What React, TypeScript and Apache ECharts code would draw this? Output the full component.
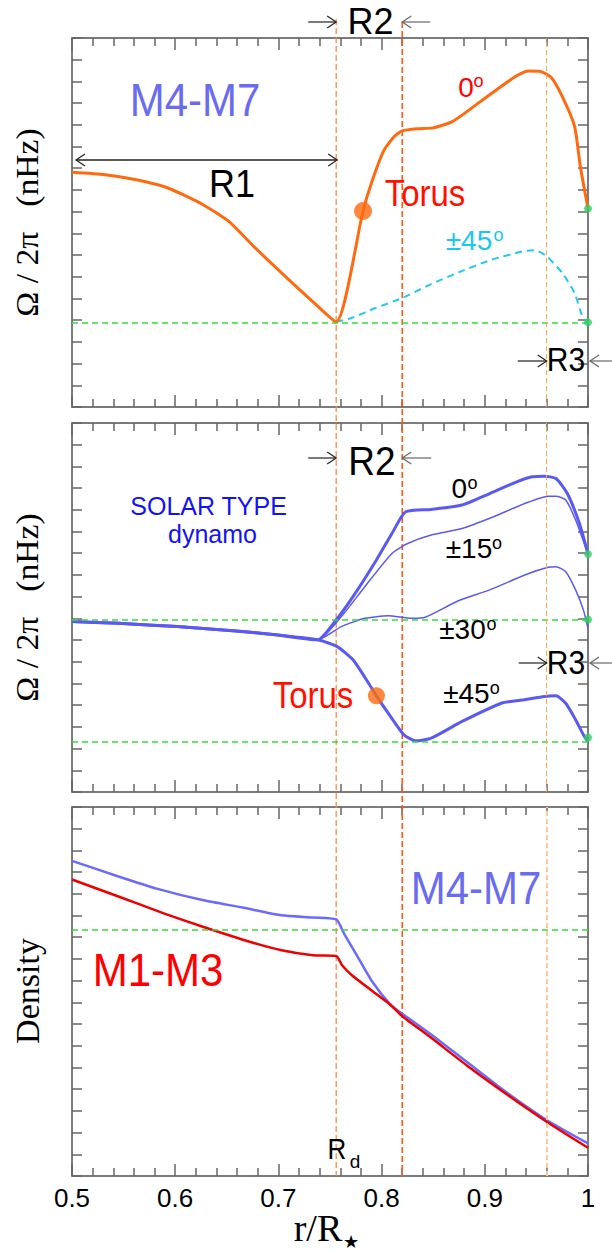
import React, { useEffect, useRef } from 'react';
import * as echarts from 'echarts';

// ---------- data (Ω/2π and density in tick units, r in r/R*) ----------
const xTickLabels = ['0.5', '0.6', '0.7', '0.8', '0.9', '1'];
const boundaryRd = 0.756;
const boundaryR2 = 0.82;
const boundaryR3 = 0.96;

// top panel (M4-M7)
const topLat0: [number, number][] = [
  [0.5, 10.81], [0.532, 10.7], [0.5625, 10.47], [0.593, 10.09], [0.627, 9.32], [0.652, 8.55],
  [0.676, 7.4], [0.71, 5.87], [0.733, 4.87], [0.756, 3.92], [0.782, 9.03], [0.79, 10.3],
  [0.802, 11.8], [0.812, 12.45], [0.82, 12.72], [0.835, 12.82], [0.85, 12.86], [0.869, 13.16],
  [0.896, 14.08], [0.93, 15.24], [0.942, 15.48], [0.953, 15.47], [0.964, 15.2], [0.975, 14.31],
  [0.987, 12.93], [0.9925, 11.1], [1.0, 9.14],
];
const topLat45: [number, number][] = [
  [0.756, 3.92], [0.771, 4.1], [0.794, 4.56], [0.82, 5.02], [0.847, 5.64], [0.877, 6.25],
  [0.907, 6.79], [0.937, 7.17], [0.949, 7.22], [0.96, 6.94], [0.975, 6.18], [0.987, 5.25],
  [0.994, 4.25], [1.0, 3.87],
];
const topTorus: [number, number][] = [[0.782, 9.03]];
const topSurface: [number, number][] = [[1.0, 9.14], [1.0, 3.9]];
const topRefs = [3.9];

// middle panel (solar type dynamo)
const midCommon: [number, number][] = [
  [0.5, 7.85], [0.545, 7.77], [0.602, 7.62], [0.659, 7.42], [0.697, 7.24], [0.738, 7.01],
];
const midLat0: [number, number][] = [
  [0.7534, 7.77], [0.7723, 9.0], [0.795, 10.69], [0.81, 11.91], [0.8234, 12.91], [0.848, 13.02],
  [0.878, 13.22], [0.9047, 13.75], [0.931, 14.29], [0.946, 14.52], [0.9577, 14.55], [0.969, 14.44],
  [0.98, 13.75], [0.9917, 12.37], [1.0, 10.96],
];
const midLat15: [number, number][] = [
  [0.761, 8.08], [0.7837, 9.46], [0.81, 10.99], [0.8253, 11.45], [0.848, 11.84], [0.878, 12.14],
  [0.9085, 12.68], [0.9387, 13.29], [0.9614, 13.63], [0.969, 13.63], [0.9784, 13.45], [0.988, 12.53],
  [1.0, 10.96],
];
const midLat30: [number, number][] = [
  [0.761, 7.62], [0.7837, 8.0], [0.8064, 8.12], [0.829, 8.0], [0.8423, 8.05], [0.8744, 8.81],
  [0.9047, 9.31], [0.9387, 10.0], [0.9614, 10.35], [0.969, 10.38], [0.9784, 10.15], [0.988, 9.31],
  [0.9955, 8.39], [1.0, 7.54],
];
const midLat45: [number, number][] = [
  [0.757, 6.7], [0.7723, 6.09], [0.7874, 5.01], [0.795, 4.43], [0.8064, 3.63], [0.8215, 2.64],
  [0.8328, 2.36], [0.848, 2.48], [0.878, 3.25], [0.916, 4.09], [0.9387, 4.25], [0.9577, 4.4],
  [0.969, 4.43], [0.9784, 4.09], [0.988, 3.33], [0.9955, 2.64], [1.0, 2.33],
];
const midTorus: [number, number][] = [[0.795, 4.43]];
const midSurface: [number, number][] = [[1.0, 10.96], [1.0, 7.95], [1.0, 2.51]];
const midRefs = [7.92, 2.3];

// bottom panel (density)
const densM4M7: [number, number][] = [
  [0.5, 14.52], [0.5443, 13.81], [0.582, 13.24], [0.6275, 12.7], [0.665, 12.37], [0.703, 12.01],
  [0.7334, 11.91], [0.756, 11.82], [0.7636, 11.17], [0.775, 10.25], [0.79, 9.02], [0.809, 7.87],
  [0.82, 7.48], [0.8468, 6.56], [0.8846, 5.18], [0.9225, 3.8], [0.9603, 2.57], [1.0, 1.5],
];
const densM1M3: [number, number][] = [
  [0.5, 13.66], [0.5443, 12.89], [0.5896, 12.09], [0.6275, 11.47], [0.673, 10.78], [0.703, 10.4],
  [0.7334, 10.17], [0.756, 10.14], [0.7617, 9.71], [0.7712, 9.25], [0.79, 8.56], [0.809, 7.87],
  [0.82, 7.36], [0.8468, 6.41], [0.8846, 5.02], [0.9225, 3.72], [0.9603, 2.49], [1.0, 1.3],
];
const densRefs = [11.35];

// ---------- styling ----------
const SANS = '"Liberation Sans", Arial, Helvetica, sans-serif';
const SERIF = '"Liberation Serif", "Times New Roman", serif';
const AXIS_COLOR = '#505050';
const TICK_COLOR = '#666';
const GREEN = '#3ada3a';
const DOT_GREEN = '#33cc66';
const ORANGE = '#ff6a10';
const BLUE = '#5a5af0';
const gridTops = [38, 423, 807];

function xAxisFor(g: number, pos: 'top' | 'bottom', showLabel: boolean) {
  return {
    type: 'value', gridIndex: g, position: pos, min: 0.5, max: 1, interval: 0.1,
    axisLine: { show: true, onZero: false, lineStyle: { color: AXIS_COLOR, width: 1.5 } },
    axisTick: { show: true, inside: true, length: 12, lineStyle: { color: TICK_COLOR, width: 1.5 } },
    minorTick: { show: true, splitNumber: 5, length: 8, lineStyle: { color: TICK_COLOR, width: 1.5 } },
    splitLine: { show: false }, minorSplitLine: { show: false },
    axisLabel: {
      show: showLabel, margin: 9, color: '#000', fontFamily: SANS, fontSize: 26,
      formatter: (v: number) => xTickLabels[Math.round((v - 0.5) / 0.1)] ?? '',
    },
  };
}
function yAxisFor(g: number, pos: 'left' | 'right') {
  return {
    type: 'value', gridIndex: g, position: pos, min: 0, max: 17, interval: 1,
    axisLine: { show: true, onZero: false, lineStyle: { color: AXIS_COLOR, width: 1.5 } },
    axisTick: { show: true, inside: true, length: 10, lineStyle: { color: TICK_COLOR, width: 1.5 } },
    splitLine: { show: false },
    axisLabel: { show: false },
  };
}
function line(g: number, data: [number, number][], color: string, width: number, type: any = 'solid') {
  return {
    type: 'line', xAxisIndex: 2 * g, yAxisIndex: 2 * g, data, symbol: 'none', smooth: 0.2,
    lineStyle: { color, width, type }, silent: true, z: 3, animation: false,
  };
}
function dots(g: number, data: [number, number][], color: string, size: number) {
  return {
    type: 'scatter', xAxisIndex: 2 * g, yAxisIndex: 2 * g, data, symbol: 'circle', symbolSize: size,
    itemStyle: { color }, silent: true, z: 5,
  };
}
function refs(g: number, ys: number[], r3Color: string, r3Width: number) {
  return {
    type: 'line', xAxisIndex: 2 * g, yAxisIndex: 2 * g, data: [], silent: true,
    markLine: {
      silent: true, symbol: ['none', 'none'], label: { show: false }, animation: false,
      data: [
        ...ys.map((v) => ({ yAxis: v, lineStyle: { color: GREEN, width: 1.5, type: [6, 4] } })),
        { xAxis: boundaryR3, lineStyle: { color: r3Color, width: r3Width, type: [5, 3] } },
      ],
    },
  };
}

function buildOption() {
  const grid = gridTops.map((top) => ({ left: 72, top, width: 516, height: 369 }));
  const xAxis: any[] = [];
  const yAxis: any[] = [];
  for (let g = 0; g < 3; g++) {
    xAxis.push(xAxisFor(g, 'bottom', g === 2));
    xAxis.push(xAxisFor(g, 'top', false));
    yAxis.push(yAxisFor(g, 'left'));
    yAxis.push(yAxisFor(g, 'right'));
  }
  const series = [
    refs(0, topRefs, '#ffa64d', 1),
    line(0, topLat45, '#22c8ee', 2, [7, 5]),
    line(0, topLat0, ORANGE, 3),
    dots(0, topTorus, ORANGE, 18),
    dots(0, topSurface, DOT_GREEN, 8),

    refs(1, midRefs, '#ffa64d', 1),
    line(1, [...midCommon, ...midLat15], BLUE, 1.5),
    line(1, [...midCommon, ...midLat30], BLUE, 1.5),
    line(1, [...midCommon, ...midLat0], BLUE, 3),
    line(1, [...midCommon, ...midLat45], BLUE, 3),
    dots(1, midTorus, ORANGE, 17),
    dots(1, midSurface, DOT_GREEN, 8),

    refs(2, densRefs, '#ffc999', 2),
    line(2, densM4M7, '#6a6aff', 2.5),
    line(2, densM1M3, '#ee0000', 2.5),
  ];
  return { animation: false, backgroundColor: '#fff', grid, xAxis, yAxis, series };
}

function text(t: string, x: number, y: number, size: number, color: string, extra: any = {}) {
  const { family, ...rest } = extra;
  return {
    type: 'text', x, y, z: 100, silent: true, ...rest,
    style: {
      text: t, fill: color, font: `${size}px ${family || SANS}`, align: 'center', verticalAlign: 'middle',
    },
  };
}
function arrow(from: number, tip: number, y: number, color: string) {
  const d = tip > from ? 1 : -1;
  return [
    { type: 'line', z: 50, silent: true, shape: { x1: from, y1: y, x2: tip, y2: y }, style: { stroke: color, lineWidth: 1.2 } },
    {
      type: 'polyline', z: 50, silent: true,
      shape: { points: [[tip - d * 9, y - 6], [tip, y], [tip - d * 9, y + 6]] },
      style: { stroke: color, lineWidth: 1.2, fill: 'none' },
    },
  ];
}

export default function App() {
  const ref = useRef<HTMLDivElement>(null);
  useEffect(() => {
    const chart = echarts.init(ref.current!, null, { renderer: 'svg' });
    chart.setOption(buildOption());

    const px = (v: number) => chart.convertToPixel({ xAxisIndex: 0 }, v) as unknown as number;
    const xL = px(0.5);
    const xR = px(1.0);
    const xRd = px(boundaryRd);
    const xR2 = px(boundaryR2);
    const xR3 = px(boundaryR3);
    const yBottom = chart.convertToPixel({ yAxisIndex: 4 }, 0) as unknown as number;

    const g: any[] = [
      { type: 'line', z: 1, silent: true, shape: { x1: xRd, y1: 19, x2: xRd, y2: yBottom }, style: { stroke: '#ff8a3d', lineWidth: 1.3, lineDash: [6, 3] } },
      { type: 'line', z: 1, silent: true, shape: { x1: xR2, y1: 22, x2: xR2, y2: yBottom }, style: { stroke: '#ff5a10', lineWidth: 1.6, lineDash: [6, 3] } },

      // R2 (top)
      text('R2', 370.5, 21, 36, '#000'),
      ...arrow(xRd - 28, xRd, 22, '#222'),
      ...arrow(xR2 + 28, xR2, 22, '#666'),
      // R1
      text('R1', 232, 184, 36, '#000', { scaleY: 1.08 }),
      ...arrow(xRd + 1, xL + 4, 160, '#222'),
      ...arrow(xL + 4, xRd + 1, 160, '#222'),
      // R3 (top)
      text('R3', 566, 360, 30, '#000', { scaleY: 1.08 }),
      ...arrow(xR3 - 29, xR3, 361, '#222'),
      ...arrow(612, xR + 2, 361, '#666'),

      text('M4-M7', 195, 100, 42, '#6b6bee', { scaleY: 1.1 }),
      text('Torus', 425, 193, 33, '#ff1100', { scaleY: 1.12 }),
      text('0', 466, 87, 28, '#ff0000'),
      text('o', 478.5, 81, 18, '#ff0000'),
      text('±45', 469, 240, 28, '#18c8f0'),
      text('o', 498.5, 235, 18, '#18c8f0'),

      // middle panel
      text('R2', 372, 461, 37, '#000', { scaleY: 1.08 }),
      ...arrow(xRd - 28, xRd, 458, '#222'),
      ...arrow(xR2 + 29, xR2, 458, '#666'),
      text('SOLAR TYPE', 208.6, 506, 25, '#1414f0'),
      text('dynamo', 212.5, 534, 25, '#1414f0'),
      text('0', 459.4, 488, 28, '#000'),
      text('o', 472.5, 483, 18, '#000'),
      text('±15', 469, 548, 28, '#000'),
      text('o', 497, 543, 18, '#000'),
      text('±30', 462.5, 629, 28, '#000'),
      text('o', 491.5, 624, 18, '#000'),
      text('±45', 466.4, 693, 28, '#000'),
      text('o', 494.7, 688, 18, '#000'),
      text('Torus', 313, 695, 33, '#ff1100', { scaleY: 1.12 }),
      text('R3', 566, 663, 30, '#000', { scaleY: 1.08 }),
      ...arrow(xR3 - 28, xR3, 663, '#222'),
      ...arrow(612, xR + 2, 663, '#666'),

      // bottom panel
      text('M4-M7', 476, 888, 42, '#6b6bee', { scaleY: 1.1 }),
      text('M1-M3', 158, 970, 42, '#ff0000', { scaleY: 1.1 }),
      text('R', 337, 1149, 26, '#000', { scaleY: 1.1 }),
      text('d', 355, 1161, 19, '#000'),

      // axis titles
      text('Ω / 2π   (nHz)', 27, 222.5, 32, '#000', { family: SERIF, rotation: Math.PI / 2, scaleX: 1.05 }),
      text('Ω / 2π   (nHz)', 27, 607.5, 32, '#000', { family: SERIF, rotation: Math.PI / 2, scaleX: 1.05 }),
      text('Density', 27, 991, 34, '#000', { family: SERIF, rotation: Math.PI / 2 }),
      text('r/R', 318, 1228, 38, '#000', { family: SERIF }),
      text('★', 350.5, 1242, 18, '#000'),
    ];
    chart.setOption({ graphic: g });
    return () => chart.dispose();
  }, []);
  return (
    <div
      ref={ref}
      style={{ position: 'fixed', left: 0, top: 0, width: 612, height: 1258, background: '#fff' }}
    />
  );
}
